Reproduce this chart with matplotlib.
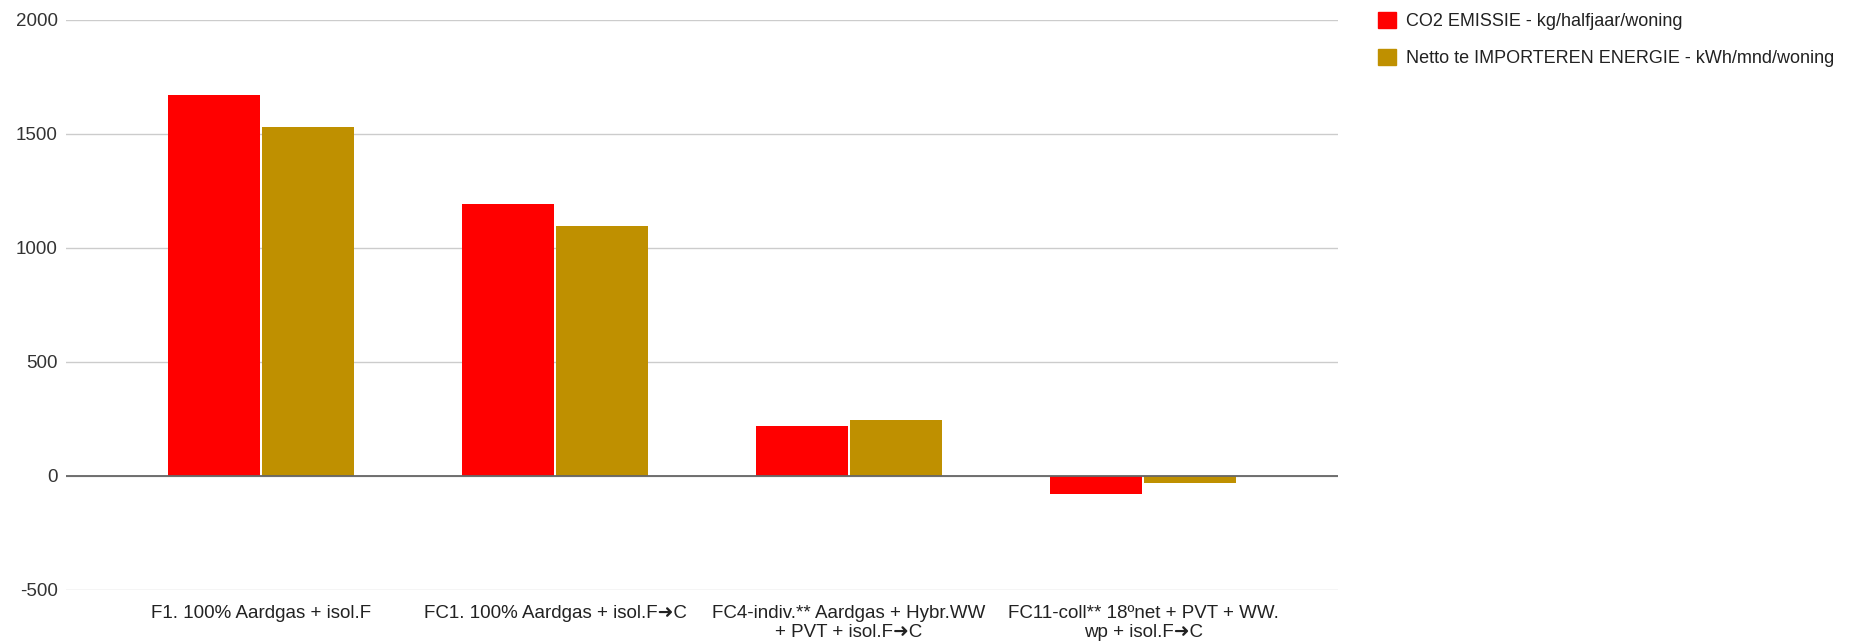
import numpy as np
import matplotlib.pyplot as plt
from matplotlib.patches import Patch

categories = [
    'F1. 100% Aardgas + isol.F',
    'FC1. 100% Aardgas + isol.F\u279cC',
    'FC4-indiv.** Aardgas + Hybr.WW\n+ PVT + isol.F\u279cC',
    'FC11-coll** 18\u00banet + PVT + WW.\nwp + isol.F\u279cC',
]
co2 = [1670, 1195, 218, -78]
energie = [1530, 1095, 244, -29]
series_names = ['CO2 EMISSIE - kg/halfjaar/woning',
                'Netto te IMPORTEREN ENERGIE - kWh/mnd/woning']
colors = ['#ff0000', '#bf9000']
yticks = [-500, 0, 500, 1000, 1500, 2000]

plt.rcParams['font.family'] = ['Liberation Sans', 'DejaVu Sans']

fig = plt.figure(figsize=(18.57, 6.42), dpi=100)
ax = fig.add_axes([66 / 1857, 1 - 590 / 642, (1338 - 66) / 1857, 570 / 642])

x = np.arange(len(categories))
w = 0.313
gap = 0.006
ax.bar(x - w / 2 - gap / 2, co2, w, color=colors[0], zorder=3)
ax.bar(x + w / 2 + gap / 2, energie, w, color=colors[1], zorder=3)

ax.set_xlim(-0.663, 3.663)
ax.set_ylim(-500, 2000)
ax.set_yticks(yticks)
ax.set_yticklabels([str(t) for t in yticks], fontsize=13.5, color='#333333')
ax.set_xticks(x)
ax.set_xticklabels(categories, fontsize=13.5, color='#222222',
                   linespacing=1.12, va='top')
ax.tick_params(axis='both', length=0)
ax.tick_params(axis='y', pad=6)
ax.tick_params(axis='x', pad=11)
ax.grid(axis='y', color='#cccccc', linewidth=1, zorder=0)
ax.axhline(0, color='#666666', linewidth=1.3, zorder=4)
for s in ax.spines.values():
    s.set_visible(False)

handles = [Patch(color=c) for c in colors]
fig.legend(handles, series_names, loc='upper left',
           bbox_to_anchor=(1362 / 1857, 1.007), frameon=False,
           fontsize=13, handlelength=1.0, handleheight=1.0,
           handletextpad=0.55, labelspacing=1.05, labelcolor='#222222')

fig.savefig('out.png', dpi=100)
